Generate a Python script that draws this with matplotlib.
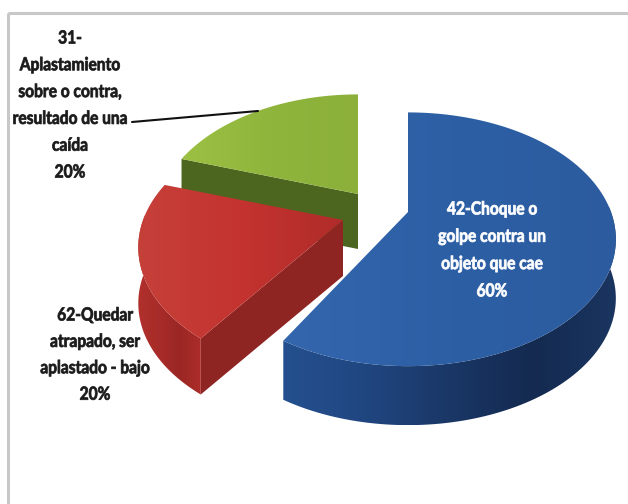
import numpy as np
import matplotlib
matplotlib.use("Agg")
import matplotlib.pyplot as plt
from matplotlib.patches import Polygon, Rectangle
from matplotlib.colors import LinearSegmentedColormap
from matplotlib.patheffects import AbstractPathEffect
from matplotlib.transforms import Affine2D

# ---- data ----
categories = ["42-Choque o\ngolpe contra un\nobjeto que cae",
              "62-Quedar\natrapado, ser\naplastado - bajo",
              "31-\nAplastamiento\nsobre o contra,\nresultado de una\ncaída"]
values = [60, 20, 20]
pct_labels = ["60%", "20%", "20%"]

# ---- style / layout (pixel space) ----
W, H = 628, 504
apex = [(408, 212), (343, 220), (358, 194)]
end_trim = [-6, 0, 0]         # perspective correction of the drawn end edge
radius_scale = [0.995, 0.98, 0.97]
A, B, P = 204, 121, 0.215     # projected circle: half-width, half-height, perspective
depth = [59, 56, 55]
top_cols = [["#3366ad", "#2d5fa5", "#2c5c9f"],
            ["#c6403a", "#c4332f", "#b02c2a"],
            ["#9cc043", "#8fb53c", "#8cb03a"]]
wall_cols = [["#24508f", "#204680", "#1a3766", "#142a50", "#1a3560"],
             ["#b0302c", "#a82c29", "#9a2725", "#ad2d29"],
             ["#4f6a22", "#4f6a22"]]
cut_cols = ["#2a5a9c", "#8f2523", "#4c6620"]
SQUEEZE = 0.86


class Squeeze(AbstractPathEffect):
    """Narrows and slightly emboldens the glyph outlines about the text's anchor."""
    def __init__(self, factor, cx_data, color, stroke=0.55):
        super().__init__()
        self.factor, self.cx, self.color, self.stroke = factor, cx_data, color, stroke

    def draw_path(self, renderer, gc, tpath, affine, rgbFace=None):
        c = ax.transData.transform((self.cx, 0))[0]
        squeeze = Affine2D().translate(-c, 0).scale(self.factor, 1).translate(c, 0)
        gc0 = renderer.new_gc()
        gc0.copy_properties(gc)
        gc0.set_linewidth(self.stroke)
        gc0.set_foreground(self.color)
        renderer.draw_path(gc0, tpath, affine + squeeze, rgbFace)
        gc0.restore()


fig = plt.figure(figsize=(W / 100, H / 100), dpi=100, facecolor="white")
ax = fig.add_axes([0, 0, 1, 1])
ax.set_xlim(0, W)
ax.set_ylim(H, 0)
ax.axis("off")


def project(theta_deg, ap, k):
    t = np.radians(theta_deg)
    u, v = np.sin(t), -np.cos(t)
    d = 1 - P * v
    return ap[0] + k * A * u / d, ap[1] + B * v / d


def grad(poly, cols, horizontal=True, z=1):
    cmap = LinearSegmentedColormap.from_list("g", cols)
    xs, ys = poly[:, 0], poly[:, 1]
    g = np.linspace(0, 1, 256)
    g = g[None, :] if horizontal else g[:, None]
    patch = Polygon(poly, closed=True, fc="none", ec="none", zorder=z)
    ax.add_patch(patch)
    im = ax.imshow(g, cmap=cmap, extent=(xs.min(), xs.max(), ys.max(), ys.min()),
                   aspect="auto", zorder=z, interpolation="bilinear")
    im.set_clip_path(patch)
    ax.set_xlim(0, W)
    ax.set_ylim(H, 0)


# frame
ax.add_patch(Rectangle((8, 13), 640, 520, fc="none", ec="#c8c8c8", lw=2.2, zorder=0))

# slices: drawn back to front
shares = np.array(values) / sum(values) * 360
starts = np.concatenate([[0], np.cumsum(shares)[:-1]])
for i in [2, 1, 0]:
    t0, t1 = starts[i], starts[i] + shares[i] + end_trim[i]
    th = np.linspace(t0, t1, 160)
    ax_, ay_ = apex[i]
    px, py = project(th, apex[i], radius_scale[i])
    z = 10 + (2 - i) * 3
    dp = depth[i]

    # flat cut face of green and red, seen from the front
    if i != 0:
        ex, ey = px[0], py[0]
        cut = np.array([[ax_, ay_], [ex, ey], [ex, ey + dp], [ax_, ay_ + dp]])
        ax.add_patch(Polygon(cut, closed=True, fc=cut_cols[i], ec="none", zorder=z))

    # outer wall: the arc part that faces the viewer
    mask = np.cos(np.radians(th)) <= 0.05 if i != 2 else np.zeros_like(th, bool)
    if mask.any():
        wx, wy = px[mask], py[mask]
        wall = np.column_stack([np.r_[wx, wx[::-1]], np.r_[wy, (wy + dp)[::-1]]])
        grad(wall, wall_cols[i], True, z + 0.5)

    # top face
    top = np.column_stack([np.r_[ax_, px], np.r_[ay_, py]])
    grad(top, top_cols[i], True, z + 1)

# leader line
ax.plot([132, 258], [122, 111], color="#111111", lw=1.5, solid_capstyle="round", zorder=30)


def label(x, y, step, lines, color):
    for k, s in enumerate(lines):
        t = ax.text(x, y + k * step, s, ha="center", va="center", color=color,
                    family="Lato", fontweight="bold", fontsize=13, zorder=40)
        t.set_path_effects([Squeeze(SQUEEZE, x, color)])


label(70, 38, 26.8, categories[2].split("\n") + [pct_labels[2]], "#1a1a1a")
label(492, 209, 27.3, categories[0].split("\n") + [pct_labels[0]], "white")
label(95, 315, 26.4, categories[1].split("\n") + [pct_labels[1]], "#1a1a1a")

fig.savefig("out.png", dpi=100)
